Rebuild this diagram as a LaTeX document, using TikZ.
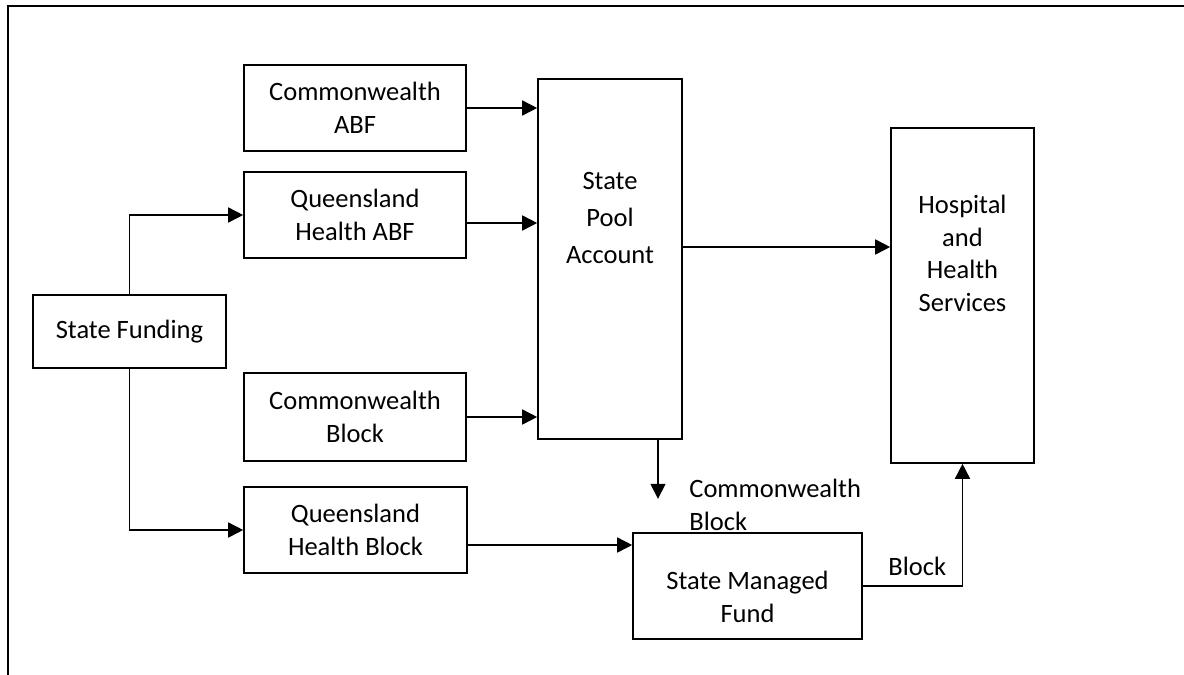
\documentclass[tikz,border=0pt]{standalone}
\usepackage{fontspec}
\setmainfont{Carlito}
\usetikzlibrary{arrows.meta,calc}

\begin{document}
\begin{tikzpicture}[x=0.5pt,y=-0.5pt,
    txt/.style={align=center,inner sep=0pt,font=\fontsize{13.25}{16.25}\selectfont},
    box/.style={txt,draw,line width=0.8pt},
    flow/.style={line width=0.8pt,-{Triangle[length=7.5pt,width=7.5pt]}},
    lbl/.style={txt,anchor=west,align=left}]
    \useasboundingbox (0,0) rectangle (1184,675);
    \draw[line width=1.2pt] (8,675) -- (8,6) -- (1184,6);

    \node[box,minimum width=96.5pt,minimum height=36.5pt] (fund) at (129.5,331.5) {State Funding};
    \node[box,minimum width=111pt,minimum height=43pt] (cwabf) at (355,108) {Commonwealth\\ABF};
    \node[box,minimum width=111pt,minimum height=43pt] (qhabf) at (355,215) {Queensland\\Health ABF};
    \node[box,minimum width=111pt,minimum height=44pt] (cwblock) at (355,417) {Commonwealth\\Block};
    \node[box,minimum width=111.5pt,minimum height=43pt] (qhblock) at (355.5,530) {Queensland\\Health Block};
    \node[box,minimum width=72pt,minimum height=180pt,
        label={[txt,font=\fontsize{13.25}{18.5}\selectfont,yshift=20.5pt]center:State\\Pool\\Account}] (pool) at (610,259) {};
    \node[box,minimum width=71.5pt,minimum height=167.5pt,
        label={[txt,yshift=21pt]center:Hospital\\and\\Health\\Services}] (hhs) at (962.5,295.5) {};
    \node[box,minimum width=114.5pt,minimum height=53pt,
        label={[txt,yshift=-5.5pt]center:State Managed\\Fund}] (smf) at (747.5,586) {};

    \node[lbl] (cblbl) at (689,505) {Commonwealth\\Block};
    \node[lbl] (blbl) at (888,566) {Block};

    \coordinate (qa) at ($(qhabf.east)+(0,8)$);
    \coordinate (pa) at ($(pool.east)+(0,-12)$);
    \coordinate (qb) at ($(qhblock.east)+(0,15)$);
    \coordinate (pb) at ($(pool.south)+(48,0)$);
    \coordinate (cbtip) at ($(pb)+(0,59)$);

    \draw[flow] (fund.north) |- (qhabf.west);
    \draw[flow] (fund.south) |- (qhblock.west);
    \draw[flow] (cwabf.east) -- (cwabf.east -| pool.west);
    \draw[flow] (qa) -- (qa -| pool.west);
    \draw[flow] (cwblock.east) -- (cwblock.east -| pool.west);
    \draw[flow] (pa) -- (pa -| hhs.west);
    \draw[flow] (pb) -- (cbtip);
    \draw[flow] (qb) -- (qb -| smf.west);
    \draw[flow] (smf.east) -| (hhs.south);
\end{tikzpicture}
\end{document}
